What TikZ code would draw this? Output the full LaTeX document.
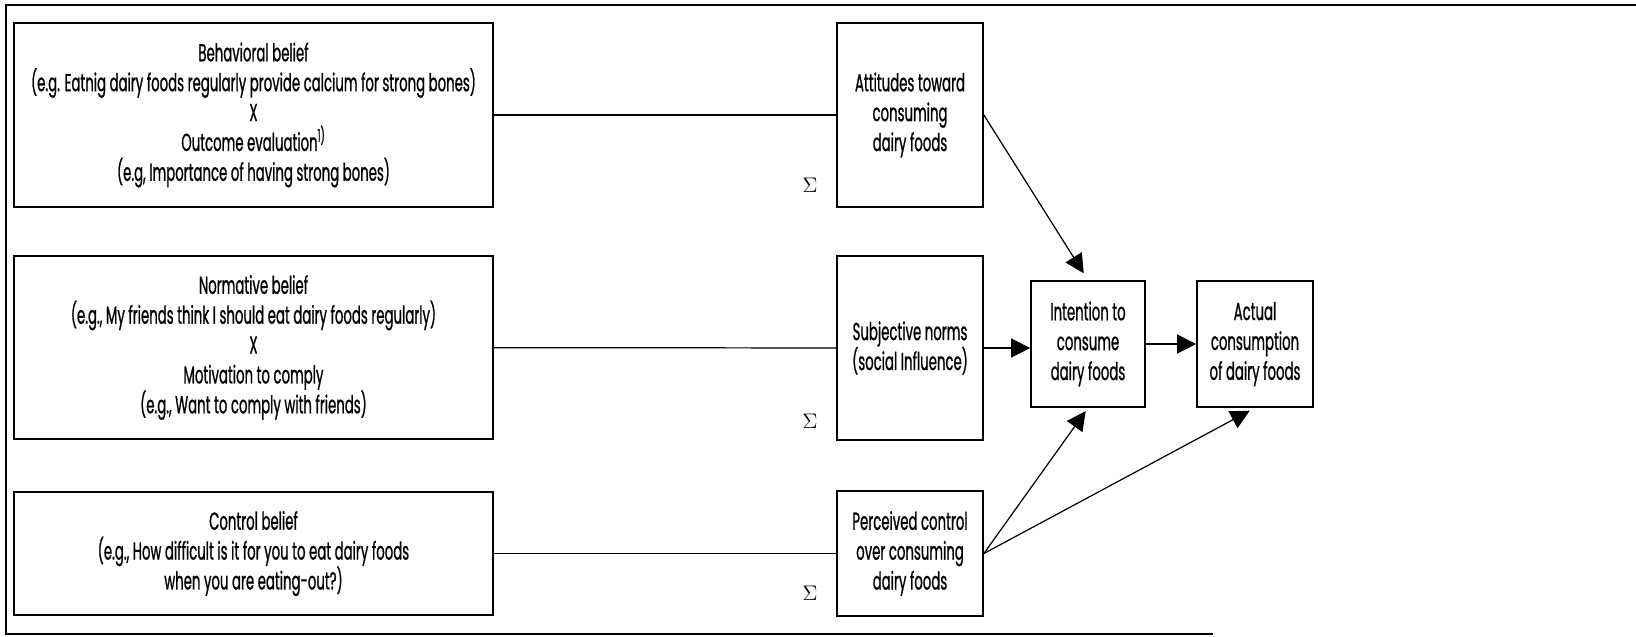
\documentclass[tikz,border=0pt]{standalone}
\usepackage{fontspec}
\setmainfont{Poppins}[FakeStretch=0.54, FakeBold=0.8]
\usepackage{tikz}
\usetikzlibrary{arrows.meta}
\tikzstyle{box} = [draw, line width=1pt, align=center, inner sep=0pt, font=\fontsize{14}{17}\selectfont]
\tikzstyle{link} = [line width=0.7pt]
\tikzstyle{arrow} = [line width=0.7pt, -{Triangle[length=0.38cm, width=0.38cm]}]

\begin{document}
\begin{tikzpicture}[x = 0.02cm, y = -0.02cm]
	\useasboundingbox (0, 0) rectangle (1636, 636) ;
	\draw[line width=0.8pt] (1636, 5) -- (6, 5) -- (6, 634) -- (1213, 634) ;
	
	\node[box, minimum width=9.58cm, minimum height=3.68cm] (behav) at (253.5, 115) {Behavioral belief\\(e.g. Eatnig dairy foods regularly provide calcium for strong bones)\\X\\Outcome evaluation\textsuperscript{1)}\\(e.g, Importance of having strong bones)} ;
	\node[box, minimum width=9.58cm, minimum height=3.66cm] (norm) at (253.5, 347.5) {Normative belief\\(e.g., My friends think I should eat dairy foods regularly)\\X\\Motivation to comply\\(e.g., Want to comply with friends)} ;
	\node[box, minimum width=9.58cm, minimum height=2.46cm] (ctrl) at (253.5, 553.5) {Control belief\\(e.g., How difficult is it for you to eat dairy foods\\when you are eating-out?)} ;
	
	\node[font=\large] (sum1) at (810, 185) {$\Sigma$} ;
	\node[font=\large] (sum2) at (810, 421) {$\Sigma$} ;
	\node[font=\large] (sum3) at (810, 593) {$\Sigma$} ;
	
	\node[box, minimum width=2.92cm, minimum height=3.68cm] (att) at (910, 115) {Attitudes toward\\consuming\\dairy foods} ;
	\node[box, minimum width=2.92cm, minimum height=3.68cm] (subj) at (910, 348) {Subjective norms\\(social Influence)} ;
	\node[box, minimum width=2.92cm, minimum height=2.5cm] (perc) at (910, 553.5) {Perceived control\\over consuming\\dairy foods} ;
	
	\node[box, minimum width=2.28cm, minimum height=2.52cm] (int) at (1088, 344) {Intention to\\consume\\dairy foods} ;
	\node[box, minimum width=2.32cm, minimum height=2.52cm] (act) at (1255, 344) {Actual\\consumption\\of dairy foods} ;
	
	\draw[link] (behav) -- (att) ;
	\draw[link] (norm) -- (subj) ;
	\draw[link] (ctrl) -- (perc) ;
	
	\draw[arrow, shorten >=0.16cm] (att.east) -- (int.north) ;
	\draw[arrow] (subj.east) -- (subj.east -| int.west) ;
	\draw[arrow] (int.east) -- (act.west) ;
	\draw[arrow, shorten >=0.08cm] (perc.east) -- (int.south) ;
	\draw[arrow, shorten >=0.12cm] (perc.east) -- (act.south) ;
\end{tikzpicture}
\end{document}
